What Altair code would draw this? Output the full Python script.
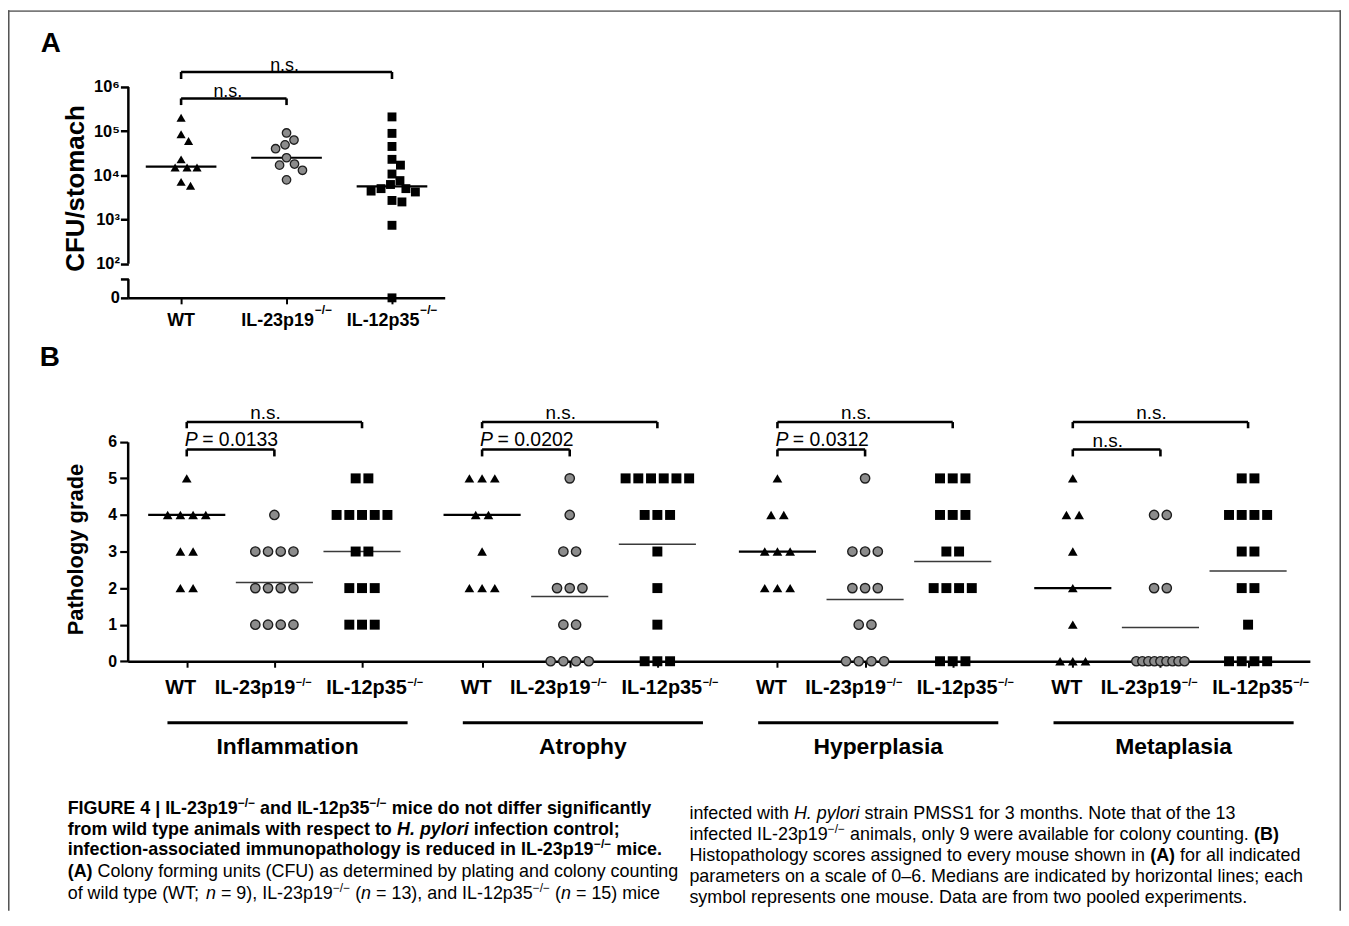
import math
import altair as alt
import pandas as pd

# ======================= data =======================
GENOTYPES = ["WT", "IL-23p19", "IL-12p35"]
KO_SUP = "−/−"

# Panel A - colony forming units per stomach (0 = no colonies recovered)
cfu_wt = [2.0e5, 8.5e4, 6.0e4, 2.3e4, 1.5e4, 1.5e4, 1.5e4, 7.1e3, 5.8e3]
cfu_il23 = [9.1e4, 6.3e4, 4.9e4, 4.0e4, 2.5e4, 1.8e4, 1.7e4, 1.3e4, 7.9e3]
cfu_il12 = [2.1e5, 8.9e4, 4.5e4, 2.3e4, 1.7e4, 1.07e4, 7.6e3, 6.2e3, 5.0e3,
            5.0e3, 4.4e3, 4.2e3, 2.7e3, 2.5e3, 7.4e2, 0]
cfu_medians = [1.58e4, 2.5e4, 5.6e3]
cfu_tests = ["n.s.", "n.s."]          # WT vs IL-23p19, WT vs IL-12p35

# Panel B - pathology grades (WT, IL-23p19-/-, IL-12p35-/-)
PARAMETERS = ["Inflammation", "Atrophy", "Hyperplasia", "Metaplasia"]
inflammation = [[5, 4, 4, 4, 4, 3, 3, 2, 2],
                [4, 3, 3, 3, 3, 2, 2, 2, 2, 1, 1, 1, 1],
                [5, 5, 4, 4, 4, 4, 4, 3, 3, 2, 2, 2, 1, 1, 1]]
atrophy = [[5, 5, 5, 4, 4, 3, 2, 2, 2],
           [5, 4, 3, 3, 2, 2, 2, 1, 1, 0, 0, 0, 0],
           [5, 5, 5, 5, 5, 5, 4, 4, 4, 3, 2, 1, 0, 0, 0]]
hyperplasia = [[5, 4, 4, 3, 3, 3, 2, 2, 2],
               [5, 3, 3, 3, 2, 2, 2, 1, 1, 0, 0, 0, 0],
               [5, 5, 5, 4, 4, 4, 3, 3, 2, 2, 2, 2, 0, 0, 0]]
metaplasia = [[5, 4, 4, 3, 2, 1, 0, 0, 0],
              [4, 4, 2, 2, 0, 0, 0, 0, 0, 0, 0, 0, 0],
              [5, 5, 4, 4, 4, 4, 3, 3, 2, 2, 1, 0, 0, 0, 0]]
grade_lines = [[4, 2.15, 3.0], [4, 1.77, 3.2], [3, 1.69, 2.73], [2, 0.92, 2.47]]
p_wt_vs_il23 = ["0.0133", "0.0202", "0.0312", "n.s."]
p_wt_vs_il12 = ["n.s.", "n.s.", "n.s.", "n.s."]

CAPTION_LEFT = [
    [("FIGURE 4 | IL-23p19", "b"), ("−/−", "bsup"), (" and IL-12p35", "b"), ("−/−", "bsup"),
     (" mice do not differ significantly", "b")],
    [("from wild type animals with respect to ", "b"), ("H. pylori", "bi"), (" infection control;", "b")],
    [("infection-associated immunopathology is reduced in IL-23p19", "b"), ("−/−", "bsup"), (" mice.", "b")],
    [("(A)", "b"), (" Colony forming units (CFU) as determined by plating and colony counting", "r")],
    [("of wild type (WT; ", "r"), ("n", "i"), (" = 9), IL-23p19", "r"), ("−/−", "sup"), (" (", "r"),
     ("n", "i"), (" = 13), and IL-12p35", "r"), ("−/−", "sup"), (" (", "r"), ("n", "i"), (" = 15) mice", "r")],
]
CAPTION_RIGHT = [
    [("infected with ", "r"), ("H. pylori", "i"), (" strain PMSS1 for 3 months. Note that of the 13", "r")],
    [("infected IL-23p19", "r"), ("−/−", "sup"), (" animals, only 9 were available for colony counting. ", "r"),
     ("(B)", "b")],
    [("Histopathology scores assigned to every mouse shown in ", "r"), ("(A)", "b"), (" for all indicated", "r")],
    [("parameters on a scale of 0–6. Medians are indicated by horizontal lines; each", "r")],
    [("symbol represents one mouse. Data are from two pooled experiments.", "r")],
]

# ======================= layout =======================
W, H = 1340, 905
FONT = "Liberation Sans, Arial, Helvetica, sans-serif"
BLACK = "#000000"
GREY_FILL = "#8c8c8c"
RING = "#1e1e1e"

# ---------- panel A scales / axes ----------
A_ZERO, A_BREAK = 1.227, 1.65
A_LABEL_Y = 0.596
A_PX_X = 106.0
A_PX_Y = 44.42
sxA = alt.Scale(domain=[-0.5, 2.5], range=[121, 439], nice=False, zero=False)
syA = alt.Scale(domain=[A_ZERO, 6], range=[289, 77], nice=False, zero=False)
axA_x = alt.Axis(orient="bottom", offset=289 - H, values=[0, 1, 2], labels=False, title=None,
                 grid=False, domainColor=BLACK, domainWidth=2.5, tickColor=BLACK, tickWidth=2,
                 tickSize=6)
axA_y = alt.Axis(orient="left", offset=-121, values=[A_ZERO, A_BREAK, 2, 3, 4, 5, 6],
                 labelExpr="datum.value < 1.5 ? '0' : (datum.value < 1.9 ? '' : '10' + "
                           "['⁰','¹','²','³','⁴','⁵','⁶'][round(datum.value)])",
                 domain=False, title=None, grid=False, tickColor=BLACK, tickWidth=2.5, tickSize=8,
                 labelFontSize=16.5, labelFontWeight="bold", labelColor=BLACK, labelPadding=1,
                 labelOverlap=False)


def XA(f):
    return alt.X(f, type="quantitative", scale=sxA, axis=axA_x)


def YA(f):
    return alt.Y(f, type="quantitative", scale=syA, axis=axA_y)


def swarm(vals, d=10.0):
    """simple beeswarm: horizontal offsets (in x units) so symbols do not overlap"""
    ys = [(math.log10(v) if v > 0 else A_ZERO) * A_PX_Y for v in vals]
    order = sorted(range(len(vals)), key=lambda i: -ys[i])
    cands = [0.0]
    for j in range(1, 200):
        cands += [0.5 * j, -0.5 * j]
    placed, offs = [], [0.0] * len(vals)
    for i in order:
        for c in cands:
            if all((c - px) ** 2 + (ys[i] - py) ** 2 >= d * d for px, py in placed):
                offs[i] = c / A_PX_X
                placed.append((c, ys[i]))
                break
    return offs


rowsA = []
for k, vals in enumerate([cfu_wt, cfu_il23, cfu_il12]):
    for v, o in zip(vals, swarm(vals)):
        rowsA.append({"k": k, "cfu": v, "off": o})
dfA = pd.DataFrame(rowsA)
LY = f"datum.cfu > 0 ? log(datum.cfu) / LN10 : {A_ZERO}"
baseA = alt.Chart(dfA).transform_calculate(ly=LY).transform_calculate(xp="datum.k + datum.off")
triA = baseA.transform_filter("datum.k == 0").mark_point(
    shape="triangle-up", filled=True, size=85, color=BLACK, opacity=1).encode(x=XA("xp"), y=YA("ly"))
cirA = baseA.transform_filter("datum.k == 1").mark_point(
    shape="circle", filled=True, size=72, fill=GREY_FILL, stroke=RING, strokeWidth=1.3,
    opacity=1).encode(x=XA("xp"), y=YA("ly"))
sqA = baseA.transform_filter("datum.k == 2").mark_point(
    shape="square", filled=True, size=80, color=BLACK, opacity=1).encode(x=XA("xp"), y=YA("ly"))

dfAm = pd.DataFrame({"k": [0, 1, 2], "cfu": cfu_medians})
medA = alt.Chart(dfAm).transform_calculate(ly=LY).transform_calculate(
    xl="datum.k - 0.335", xr="datum.k + 0.335").mark_rule(color=BLACK, strokeWidth=2.2).encode(
    x=XA("xl"), x2="xr", y=YA("ly"))

brA = pd.DataFrame([
    {"xa": 0, "xb": 1, "yl": 5.74, "yt": 5.59, "lab": cfu_tests[0], "xm": 0.5 - 6 / A_PX_X, "ty": 5.77},
    {"xa": 0, "xb": 2, "yl": 6.34, "yt": 6.18, "lab": cfu_tests[1], "xm": 1.0 - 2 / A_PX_X, "ty": 6.37},
])
hA = alt.Chart(brA).mark_rule(color=BLACK, strokeWidth=2.6).encode(x=XA("xa"), x2="xb", y=YA("yl"))
lA = alt.Chart(brA).mark_rule(color=BLACK, strokeWidth=2.6).encode(x=XA("xa"), y=YA("yt"), y2="yl")
rA = alt.Chart(brA).mark_rule(color=BLACK, strokeWidth=2.6).encode(x=XA("xb"), y=YA("yt"), y2="yl")
tA = alt.Chart(brA).mark_text(fontSize=18, align="center", baseline="alphabetic", color=BLACK).encode(
    x=XA("xm"), y=YA("ty"), text="lab:N")

dfBrk = pd.DataFrame({"x": [-0.5, -0.5], "ya": [2, A_ZERO], "yb": [6, A_BREAK]})
brk = alt.Chart(dfBrk).mark_rule(color=BLACK, strokeWidth=2.5).encode(x=XA("x"), y=YA("ya"), y2="yb")

dfAl = pd.DataFrame({"k": [0, 1, 2], "lab": GENOTYPES})
baseAl = alt.Chart(dfAl).transform_calculate(ly=str(A_LABEL_Y))
labA0 = baseAl.transform_filter("datum.k == 0").mark_text(
    fontSize=18, fontWeight="bold", align="center", baseline="alphabetic", color=BLACK).encode(
    x=XA("k"), y=YA("ly"), text="lab:N")
labA12 = baseAl.transform_filter("datum.k > 0").mark_text(
    fontSize=18, fontWeight="bold", align="right", baseline="alphabetic", dx=27.5, color=BLACK).encode(
    x=XA("k"), y=YA("ly"), text="lab:N")
supA = baseAl.transform_filter("datum.k > 0").mark_text(
    fontSize=12, fontWeight="bold", align="left", baseline="alphabetic", dx=28.5, dy=-12,
    color=BLACK, text=KO_SUP).encode(x=XA("k"), y=YA("ly"))

panelA = alt.layer(brk, medA, triA, cirA, sqA, hA, lA, rA, tA, labA0, labA12, supA)

# ---------- panel B scales / axes ----------
GAP = 3.37
B_PX_X = 88.1
sxB = alt.Scale(domain=[-0.674, 12.815], range=[120.3, 1308.7], nice=False, zero=False)
syB = alt.Scale(domain=[0, 6], range=[654.3, 433.7], nice=False, zero=False)
tick_pos = [round(g * GAP + k, 3) for g in range(4) for k in range(3)]
axB_x = alt.Axis(orient="bottom", offset=654.3 - H, values=tick_pos, labels=False, title=None,
                 grid=False, domainColor=BLACK, domainWidth=2.5, tickColor=BLACK, tickWidth=2,
                 tickSize=6)
axB_y = alt.Axis(orient="left", offset=-120.3, values=[0, 1, 2, 3, 4, 5, 6], title=None, grid=False,
                 domainColor=BLACK, domainWidth=2.5, tickColor=BLACK, tickWidth=2.2, tickSize=8,
                 labelFontSize=16, labelFontWeight="bold", labelColor=BLACK, labelPadding=3)


def XB(f):
    return alt.X(f, type="quantitative", scale=sxB, axis=axB_x)


def YB(f):
    return alt.Y(f, type="quantitative", scale=syB, axis=axB_y)


POS = f"datum.g * {GAP} + datum.k"
rowsB = [{"g": g, "k": k, "v": v}
         for g, param in enumerate([inflammation, atrophy, hyperplasia, metaplasia])
         for k, vals in enumerate(param) for v in vals]
dfB = pd.DataFrame(rowsB)
baseB = (alt.Chart(dfB)
         .transform_window(rk="row_number()", groupby=["g", "k", "v"])
         .transform_joinaggregate(cnt="count()", groupby=["g", "k", "v"])
         .transform_calculate(sp="datum.cnt <= 6 ? 0.145 : 0.55 / (datum.cnt - 1)")
         .transform_calculate(xp=f"{POS} + (datum.rk - (datum.cnt + 1) / 2) * datum.sp"))
triB = baseB.transform_filter("datum.k == 0").mark_point(
    shape="triangle-up", filled=True, size=95, color=BLACK, opacity=1).encode(x=XB("xp"), y=YB("v"))
cirB = baseB.transform_filter("datum.k == 1").mark_point(
    shape="circle", filled=True, size=88, fill=GREY_FILL, stroke=RING, strokeWidth=1.4,
    opacity=1).encode(x=XB("xp"), y=YB("v"))
sqB = baseB.transform_filter("datum.k == 2").mark_point(
    shape="square", filled=True, size=100, color=BLACK, opacity=1).encode(x=XB("xp"), y=YB("v"))

dfBl = pd.DataFrame([{"g": g, "k": k, "m": m} for g, row in enumerate(grade_lines) for k, m in enumerate(row)])
baseBl = alt.Chart(dfBl).transform_calculate(xl=f"{POS} - 0.44").transform_calculate(xr=f"{POS} + 0.44")
linB0 = baseBl.transform_filter("datum.k == 0").mark_rule(color=BLACK, strokeWidth=2.3).encode(
    x=XB("xl"), x2="xr", y=YB("m"))
linB12 = baseBl.transform_filter("datum.k > 0").mark_rule(color="#3a3a3a", strokeWidth=1.5).encode(
    x=XB("xl"), x2="xr", y=YB("m"))

brRows = []
for g in range(4):
    x0 = g * GAP
    brRows.append({"xa": x0, "xb": x0 + 2, "yl": 6.54, "yt": 6.37, "lab": p_wt_vs_il12[g]})
    brRows.append({"xa": x0, "xb": x0 + 1, "yl": 5.79, "yt": 5.60, "lab": p_wt_vs_il23[g]})
dfBr = pd.DataFrame(brRows)
hB = alt.Chart(dfBr).mark_rule(color=BLACK, strokeWidth=2.6).encode(x=XB("xa"), x2="xb", y=YB("yl"))
lB = alt.Chart(dfBr).mark_rule(color=BLACK, strokeWidth=2.6).encode(x=XB("xa"), y=YB("yt"), y2="yl")
rB = alt.Chart(dfBr).mark_rule(color=BLACK, strokeWidth=2.6).encode(x=XB("xb"), y=YB("yt"), y2="yl")
nsB = (alt.Chart(dfBr).transform_filter("datum.lab == 'n.s.'")
       .transform_calculate(xm=f"(datum.xa + datum.xb) / 2 - {9 / B_PX_X}")
       .transform_calculate(ty="datum.yl + 0.08")
       .mark_text(fontSize=19, align="center", baseline="alphabetic", color=BLACK)
       .encode(x=XB("xm"), y=YB("ty"), text="lab:N"))
pB = (alt.Chart(dfBr).transform_filter("datum.lab != 'n.s.'")
      .transform_calculate(ty="datum.yl + 0.09")
      .mark_text(fontSize=19.5, fontStyle="italic", align="left", baseline="alphabetic", dx=-2,
                 color=BLACK, text="P")
      .encode(x=XB("xa"), y=YB("ty")))
pvB = (alt.Chart(dfBr).transform_filter("datum.lab != 'n.s.'")
       .transform_calculate(ty="datum.yl + 0.09")
       .transform_calculate(pt="'= ' + datum.lab")
       .mark_text(fontSize=19.5, align="left", baseline="alphabetic", dx=15.5, color=BLACK)
       .encode(x=XB("xa"), y=YB("ty"), text="pt:N"))

dfBx = pd.DataFrame([{"g": g, "k": k, "lab": GENOTYPES[k]} for g in range(4) for k in range(3)])
baseBx = alt.Chart(dfBx).transform_calculate(xp=POS).transform_calculate(ly="-0.89")
labB0 = baseBx.transform_filter("datum.k == 0").mark_text(
    fontSize=20, fontWeight="bold", align="center", baseline="alphabetic", dx=-6, color=BLACK).encode(
    x=XB("xp"), y=YB("ly"), text="lab:N")
labB1 = baseBx.transform_filter("datum.k == 1").mark_text(
    fontSize=20, fontWeight="bold", align="right", baseline="alphabetic", dx=21, color=BLACK).encode(
    x=XB("xp"), y=YB("ly"), text="lab:N")
labB2 = baseBx.transform_filter("datum.k == 2").mark_text(
    fontSize=20, fontWeight="bold", align="right", baseline="alphabetic", dx=45, color=BLACK).encode(
    x=XB("xp"), y=YB("ly"), text="lab:N")
supB1 = baseBx.transform_filter("datum.k == 1").mark_text(
    fontSize=11, fontWeight="bold", align="left", baseline="alphabetic", dx=21.5, dy=-7.5,
    color=BLACK, text=KO_SUP).encode(x=XB("xp"), y=YB("ly"))
supB2 = baseBx.transform_filter("datum.k == 2").mark_text(
    fontSize=11, fontWeight="bold", align="left", baseline="alphabetic", dx=45.5, dy=-7.5,
    color=BLACK, text=KO_SUP).encode(x=XB("xp"), y=YB("ly"))

dfG = pd.DataFrame({"g": list(range(4)), "param": PARAMETERS})
baseG = alt.Chart(dfG).transform_calculate(
    xa=f"datum.g * {GAP} - 0.22").transform_calculate(
    xb=f"datum.g * {GAP} + 2.52").transform_calculate(
    xm=f"datum.g * {GAP} + 1.15").transform_calculate(yu="-1.68").transform_calculate(yt="-2.53")
ulB = baseG.mark_rule(color=BLACK, strokeWidth=3).encode(x=XB("xa"), x2="xb", y=YB("yu"))
gtB = baseG.mark_text(fontSize=23, fontWeight="bold", align="center", baseline="alphabetic",
                      color=BLACK).encode(x=XB("xm"), y=YB("yt"), text="param:N")

panelB = alt.layer(linB0, linB12, triB, cirB, sqB, hB, lB, rB, nsB, pB, pvB,
                   labB0, labB1, labB2, supB1, supB2, ulB, gtB)

# ---------- free-standing text: titles, panel letters, frame, caption ----------
PX = alt.X("px:Q", scale=None, axis=None)
PY = alt.Y("py:Q", scale=None, axis=None)

titles = pd.DataFrame({"px": [68, 68.5], "py": [179, 542], "t": ["CFU/stomach", "Pathology grade"]})
yt1 = alt.Chart(titles.iloc[[0]]).mark_text(angle=270, fontSize=26, fontWeight="bold", align="center",
                                            baseline="middle", color=BLACK).encode(x=PX, y=PY, text="t:N")
yt2 = alt.Chart(titles.iloc[[1]]).mark_text(angle=270, fontSize=22, fontWeight="bold", align="center",
                                            baseline="middle", color=BLACK).encode(x=PX, y=PY, text="t:N")
letters = pd.DataFrame({"px": [43, 42], "py": [42, 358], "t": ["A", "B"]})
lett = alt.Chart(letters).mark_text(fontSize=28, fontWeight="bold", align="center", baseline="alphabetic",
                                    color=BLACK).encode(x=PX, y=PY, text="t:N")

frame_h = pd.DataFrame({"px": [0], "px2": [W], "py": [0.75]})
frame_v = pd.DataFrame({"px": [0.75, W - 0.75], "py": [0, 0], "py2": [H, H]})
fh = alt.Chart(frame_h).mark_rule(color="#7a7a7a", strokeWidth=1.6).encode(x=PX, x2="px2", y=PY)
fv = alt.Chart(frame_v).mark_rule(color="#555555", strokeWidth=1.6).encode(x=PX, y=PY, y2="py2")

# Arial / Liberation Sans advance widths (1/1000 em)
UP = "ABCDEFGHIJKLMNOPQRSTUVWXYZ"
LO = "abcdefghijklmnopqrstuvwxyz"
PUN = " !(),-./;=|–−:"
REG = dict(zip(PUN, [278, 278, 333, 333, 278, 333, 278, 278, 278, 584, 260, 556, 584, 278]))
REG.update({d: 556 for d in "0123456789"})
REG.update(zip(UP, [667, 667, 722, 722, 667, 611, 778, 722, 278, 500, 667, 556, 833, 722, 778, 667, 778,
                    722, 667, 611, 722, 667, 944, 667, 667, 611]))
REG.update(zip(LO, [556, 556, 500, 556, 556, 278, 556, 556, 222, 222, 500, 222, 833, 556, 556, 556, 556,
                    333, 500, 278, 556, 500, 722, 500, 500, 500]))
BOLD = dict(zip(PUN, [278, 333, 333, 333, 278, 333, 278, 278, 333, 584, 280, 556, 584, 333]))
BOLD.update({d: 556 for d in "0123456789"})
BOLD.update(zip(UP, [722, 722, 722, 722, 667, 611, 778, 722, 278, 556, 722, 611, 833, 722, 778, 667, 778,
                     722, 667, 611, 722, 667, 944, 667, 667, 611]))
BOLD.update(zip(LO, [556, 611, 556, 611, 556, 333, 611, 611, 278, 278, 556, 278, 889, 611, 611, 611, 611,
                     389, 556, 333, 611, 556, 778, 556, 556, 500]))

CAP_SIZE = 18
STYLES = {
    "r": dict(fontSize=CAP_SIZE, fontWeight="normal", fontStyle="normal", dy=0),
    "b": dict(fontSize=CAP_SIZE, fontWeight="bold", fontStyle="normal", dy=0),
    "i": dict(fontSize=CAP_SIZE, fontWeight="normal", fontStyle="italic", dy=0),
    "bi": dict(fontSize=CAP_SIZE, fontWeight="bold", fontStyle="italic", dy=0),
    "sup": dict(fontSize=12, fontWeight="normal", fontStyle="normal", dy=-7),
    "bsup": dict(fontSize=12, fontWeight="bold", fontStyle="normal", dy=-7),
}


def text_w(s, st):
    tbl = BOLD if STYLES[st]["fontWeight"] == "bold" else REG
    return sum(tbl.get(c, 556) for c in s) * STYLES[st]["fontSize"] / 1000.0


cap_rows = []
for x0, baselines, lines in [(60, [807.5, 828.5, 849.5, 871.5, 893.5], CAPTION_LEFT),
                             (685, [812.5, 833.5, 855.5, 876.5, 897.5], CAPTION_RIGHT)]:
    for yb, segs in zip(baselines, lines):
        cur = x0
        for txt, st in segs:
            lead = len(txt) - len(txt.lstrip(" "))
            cap_rows.append({"px": cur + text_w(" " * lead, st), "py": yb, "t": txt.strip(), "st": st})
            cur += text_w(txt, st)
dfCap = pd.DataFrame(cap_rows)
cap_layers = []
for st, props in STYLES.items():
    cap_layers.append(
        alt.Chart(dfCap).transform_filter(f"datum.st == '{st}'").mark_text(
            align="left", baseline="alphabetic", color=BLACK, **props).encode(x=PX, y=PY, text="t:N"))

deco = alt.layer(fh, fv, yt1, yt2, lett, *cap_layers)

chart = (alt.layer(panelA, panelB, deco)
         .resolve_scale(x="independent", y="independent")
         .properties(width=W, height=H, autosize=alt.AutoSizeParams(type="none"), padding=0)
         .configure(font=FONT)
         .configure_view(strokeWidth=0))

chart.save("out.html", embed_options={"renderer": "svg", "actions": False})
